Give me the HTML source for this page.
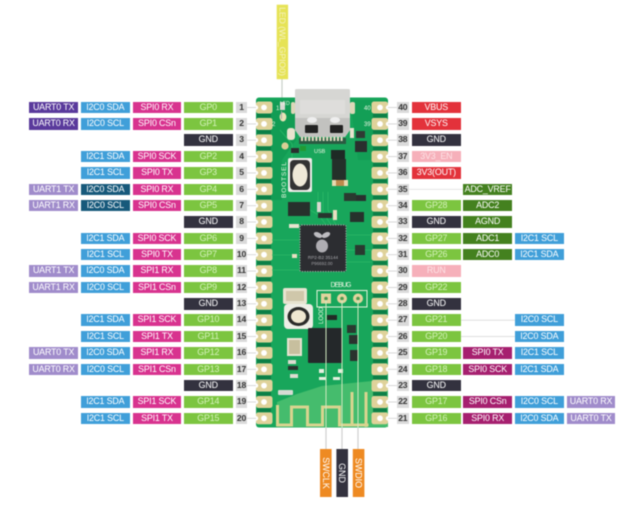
<!DOCTYPE html>
<html><head><meta charset="utf-8"><style>
html,body{margin:0;padding:0;background:#fff}
#w{position:relative;width:644px;height:506px;overflow:hidden;background:#fff;filter:blur(.45px);font-family:"Liberation Sans",sans-serif}
svg{position:absolute;left:0;top:0}
.r{position:absolute;left:0;width:644px;height:0}
.r span{position:absolute;top:-5.8px;height:11.6px;line-height:11.8px;width:48.6px;text-align:center;font-size:8.9px;letter-spacing:-.16px;color:#fff;white-space:nowrap;box-shadow:0 0 0 .6px rgba(255,255,255,.3)}
.r .c0{left:29.3px}.r .c1{left:81px}.r .c2{left:132.7px}.r .c3{left:184px}
.r .R0{left:412px}.r .R1{left:463.4px}.r .R2{left:515px}.r .R3{left:566.7px}
.r .n{width:11.6px;background:#dadada;color:#333;font-weight:bold;font-size:8.6px;letter-spacing:-.2px}
.r .nl{left:235.7px}.r .nr{left:397px}
.u0{background:#5a3a9c}.u1{background:#a08ccb}.i{background:#409fd9}.j{background:#17597b}
.s{background:#d8338f}.t{background:#a6206f}.g{background:#7cc540;color:#d6f2bd!important}
.k{background:#33323f}.x{background:#e3323b}.p{background:#f6b0ba;color:#fde3e6!important}.d{background:#44811f}
</style></head><body><div id="w">
<svg width="644" height="506" viewBox="0 0 644 506">
<defs>
<g id="p">
<rect x="247" y="-.4" width="10" height=".8" fill="#cfcfcf"/>
<rect x="388" y="-.4" width="9" height=".8" fill="#cfcfcf"/>
<rect x="256" y="-6" width="16.5" height="12" rx="2.5" fill="#dfd29a"/>
<rect x="371.5" y="-6" width="16.5" height="12" rx="2.5" fill="#dfd29a"/>
<circle cx="264" cy="0" r="2.9" fill="#fff"/>
<circle cx="380" cy="0" r="2.9" fill="#fff"/>
<path d="M256-2.2a2.2 2.2 0 0 1 0 4.4z" fill="#fff"/>
<path d="M388-2.2a2.2 2.2 0 0 0 0 4.4z" fill="#fff"/>
</g>
</defs>
<!-- connector lines -->
<rect x="281.4" y="79" width="1.2" height="38" fill="#c8cfc8"/>
<rect x="408" y="188.9" width="56" height=".8" fill="#dedede"/>
<rect x="461" y="319.8" width="54" height=".8" fill="#d6d6d6"/>
<rect x="461" y="336.1" width="54" height=".8" fill="#d6d6d6"/>
<!-- board -->
<rect x="256" y="97.5" width="132" height="330" rx="3" fill="#18a65b"/>
<path d="M256 100h40v40l-14 20v40h-26z" fill="#129c54"/>
<path d="M350 100h38v60h-30z" fill="#139f56"/>
<path d="M277 427v-25l20-8 25-8 50-5 16 0v46z" fill="#45bc6d"/>
<use href="#p" y="107.5"/><use href="#p" y="123.9"/><use href="#p" y="140.2"/><use href="#p" y="156.6"/><use href="#p" y="172.9"/><use href="#p" y="189.3"/><use href="#p" y="205.7"/><use href="#p" y="222"/><use href="#p" y="238.4"/><use href="#p" y="254.7"/><use href="#p" y="271.1"/><use href="#p" y="287.5"/><use href="#p" y="303.8"/><use href="#p" y="320.2"/><use href="#p" y="336.5"/><use href="#p" y="352.9"/><use href="#p" y="369.3"/><use href="#p" y="385.6"/><use href="#p" y="402"/><use href="#p" y="418.3"/>
<g fill="#0b8047">
<path d="M257 113.6h14v4.2h-14zM257 130h14v4.2h-14zM257 146.4h14v4.2h-14zM257 162.7h14v4.2h-14zM257 179.1h14v4.2h-14zM257 195.4h14v4.2h-14zM257 211.8h14v4.2h-14zM257 228.2h14v4.2h-14zM257 244.5h14v4.2h-14zM257 260.9h14v4.2h-14zM257 277.2h14v4.2h-14zM257 293.6h14v4.2h-14zM257 310h14v4.2h-14zM257 326.3h14v4.2h-14zM257 342.7h14v4.2h-14zM257 359h14v4.2h-14zM257 375.4h14v4.2h-14zM257 391.8h14v4.2h-14zM257 408.1h14v4.2h-14z"/>
<path d="M373 113.6h14v4.2h-14zM373 130h14v4.2h-14zM373 146.4h14v4.2h-14zM373 162.7h14v4.2h-14zM373 179.1h14v4.2h-14zM373 195.4h14v4.2h-14zM373 211.8h14v4.2h-14zM373 228.2h14v4.2h-14zM373 244.5h14v4.2h-14zM373 260.9h14v4.2h-14zM373 277.2h14v4.2h-14zM373 293.6h14v4.2h-14zM373 310h14v4.2h-14zM373 326.3h14v4.2h-14zM373 342.7h14v4.2h-14zM373 359h14v4.2h-14zM373 375.4h14v4.2h-14zM373 391.8h14v4.2h-14zM373 408.1h14v4.2h-14z"/>
</g>
<!-- traces -->
<g stroke="#2cb968" stroke-width=".8" fill="none">
<path d="M318 192v22l8 11M323 192v20l8 13M328 192v18l8 15M280 130l12 14v14M272 240h28M272 255h28M272 270h28M346 235h26M346 250h26M346 262h26M310 210l14 8"/>
</g>
<!-- USB -->
<path d="M295 90q0-1 2-1h51q2 0 2 1v40l-5 7h-45l-5-7z" fill="#d6d6d3"/>
<path d="M295 118h55v12l-5 7h-45l-5-7z" fill="#c2c2bf"/>
<rect x="300" y="100" width="45" height="14" fill="#dedddb"/>
<ellipse cx="312" cy="120" rx="5" ry="3" fill="#eee"/><ellipse cx="335" cy="120" rx="5" ry="3" fill="#eee"/>
<rect x="305" y="125" width="13" height="8" rx="1" fill="#222"/><rect x="330" y="125" width="13" height="8" rx="1" fill="#222"/>
<rect x="287" y="128" width="8" height="12" rx="3" fill="#e8e3cf"/><rect x="350" y="128" width="4" height="10" fill="#e8e3cf"/>
<rect x="350" y="102" width="5" height="12" rx="2" fill="#dcd7b8"/><rect x="291" y="102" width="4" height="12" rx="2" fill="#dcd7b8"/>
<rect x="299" y="138" width="47" height="6" fill="#2b5a42"/>
<path d="M301 139h43" stroke="#e6e0c4" stroke-width="4" stroke-dasharray="2 1.6"/>
<!-- LED -->
<rect x="280" y="102" width="5" height="8" fill="#d9d9d2"/>
<ellipse cx="283" cy="117" rx="3.4" ry="4.5" fill="#e9e3b6"/>
<rect x="281" y="111" width="1" height="8" fill="#aaa"/>
<!-- small parts top right -->
<rect x="356" y="131" width="9" height="7" fill="#2f3a34"/><rect x="355" y="141" width="12" height="11" fill="#2a2f2e"/>
<rect x="331" y="150" width="14" height="9" fill="#1e2a25"/>
<rect x="332" y="159" width="14" height="21" fill="#24302a"/>
<rect x="332" y="180" width="16" height="6" fill="#e7d9b0"/><rect x="336" y="180" width="8" height="6" fill="#bd8a4c"/>
<rect x="345" y="195" width="4" height="6" fill="#ddd"/><rect x="356" y="195" width="10" height="6" fill="#2a2f2e"/><rect x="344" y="193" width="12" height="8" fill="#2a3a30"/>
<rect x="350" y="212" width="14" height="10" fill="#26322c"/>
<rect x="317" y="202" width="4" height="10" fill="#d9d9cf"/><rect x="333" y="210" width="4" height="10" fill="#e8dfc2"/>
<rect x="318" y="213" width="14" height="5" fill="#28352e"/>
<rect x="355" y="245" width="10" height="10" fill="#2a3a30"/>
<rect x="289" y="224" width="10" height="4" fill="#e8e3cf"/><rect x="292" y="254" width="5" height="4" fill="#e8dfc2"/>
<rect x="300" y="146" width="6" height="5" fill="#293"/><rect x="291" y="148" width="8" height="5" fill="#2a2f2e"/>
<circle cx="285" cy="146" r="3.6" fill="#d9cf95"/>
<!-- boot button -->
<rect x="288" y="158" width="24" height="34" rx="2" fill="#eeeee9"/>
<rect x="290" y="160" width="20" height="30" rx="4" fill="#333"/>
<ellipse cx="300" cy="175" rx="7.5" ry="11.5" fill="#efe9d8"/>
<!-- flash -->
<rect x="288" y="202" width="22" height="14" fill="#27302c"/>
<!-- main chip -->
<rect x="300" y="225" width="46" height="46.5" rx="1.5" fill="#2c2d31"/>
<rect x="300" y="225" width="46" height="46.5" rx="1.5" fill="none" stroke="#aaa" stroke-width="1.2" stroke-dasharray="1 1.6"/>
<g fill="#cfcbd0">
<ellipse cx="322" cy="246" rx="6" ry="6.5" fill="#aeadb2"/>
<ellipse cx="318" cy="235" rx="4.5" ry="2.5" transform="rotate(25 318 235)" fill="#bdbcc0"/>
<ellipse cx="326" cy="235" rx="4.5" ry="2.5" transform="rotate(-25 326 235)" fill="#bdbcc0"/>
</g>
<text x="323" y="259" font-size="4.6" fill="#a9a9ad" text-anchor="middle">RP2-B2  35144</text>
<text x="322" y="265" font-size="4.4" fill="#a0a0a4" text-anchor="middle">P96692.00</text>
<!-- debug -->
<path d="M317 290.5h50v16.5h-50z" fill="none" stroke="#e6f3dc" stroke-width="1"/>
<text x="341" y="287" font-size="7" fill="#eef6e4" text-anchor="middle" textLength="21">DEBUG</text>
<rect x="321" y="293.5" width="10" height="10" fill="#e1d49e"/>
<circle cx="342" cy="298.5" r="5" fill="#e1d49e"/><circle cx="358" cy="298.5" r="5" fill="#e1d49e"/>
<circle cx="326" cy="298.5" r="1.8" fill="#4c9a50"/><circle cx="342" cy="298.5" r="1.8" fill="#4c9a50"/><circle cx="358" cy="298.5" r="1.8" fill="#4c9a50"/>
<!-- crystal & reset -->
<rect x="283" y="288" width="24" height="16" rx="2" fill="#e7e3d0"/><rect x="286" y="291" width="18" height="10" fill="#cfc7aa"/>
<rect x="284" y="304" width="29" height="25" rx="4" fill="#eeeee6"/>
<ellipse cx="298.5" cy="316.5" rx="11" ry="9.5" fill="#2a2a28"/><ellipse cx="298.5" cy="316.5" rx="7.5" ry="6.5" fill="#efe7d0"/>
<rect x="287" y="338" width="15" height="18" fill="#e7e3d0"/><rect x="289" y="340" width="11" height="14" fill="#c7bf9e"/>
<rect x="288" y="360" width="8" height="4" fill="#dcdcd0"/><rect x="288" y="366" width="10" height="4" fill="#2a332e"/><rect x="290" y="374" width="8" height="4" fill="#dcdcd0"/>
<rect x="278" y="390" width="15" height="5" rx="1" fill="#d6dbd3"/>
<!-- QFN -->
<rect x="308" y="328" width="34" height="35" rx="1" fill="#24282a"/>
<rect x="347" y="325" width="9" height="8" fill="#2a3a30"/><rect x="349" y="335" width="9" height="9" fill="#2a332e"/><rect x="350" y="350" width="8" height="11" fill="#2a332e"/>
<rect x="327" y="315" width="10" height="5" fill="#222b26"/>
<rect x="319" y="369" width="5" height="4" fill="#e6efe0"/><rect x="338" y="369" width="5" height="4" fill="#e6efe0"/><rect x="319" y="377" width="7" height="3" fill="#e6efe0"/><rect x="333" y="377" width="7" height="3" fill="#e6efe0"/>
<!-- antenna -->
<g fill="none" stroke="#d8d48f" stroke-width="3">
<path d="M277.5 405v20h14v-18h16v18h15v-18h17v18h29"/>
<path d="M352 392v33M366 392v35"/>
</g>
<!-- debug leads -->
<g stroke-width="1">
<path d="M326 300v128M342 300v128M358 300v128" stroke="#cfe8bf"/>
<path d="M326 428v21M342 428v21M358 428v21" stroke="#cfcfcf" stroke-width="1.2"/>
</g>
<!-- silkscreen -->
<g fill="#eef6e4" font-size="6">
<text x="276" y="110">1</text><text x="272" y="126">2</text>
<text x="364" y="110">40</text><text x="364" y="126">39</text>
<text x="280" y="105" font-size="5">LED</text>
<text x="314" y="153" font-size="5.5">USB</text>
<text transform="translate(286,198) rotate(-90)" font-size="6.5" textLength="36">BOOTSEL</text>
<text transform="translate(323,324) rotate(-90)" font-size="6">LOOD</text>
</g>
<!-- LED label -->
<rect x="276.7" y="4.7" width="11.4" height="74.5" fill="#e6e356"/>
<text transform="translate(279.4,41.5) rotate(90)" font-size="8.6" fill="#f6f3c4" text-anchor="middle">LED (WL_GPIO0)</text>
<!-- bottom labels -->
<rect x="320" y="449" width="11.6" height="48" fill="#ee8a22"/>
<rect x="336.4" y="449" width="11.6" height="48" fill="#33323f"/>
<rect x="352.8" y="449" width="11.6" height="48" fill="#ee8a22"/>
<g font-size="8.9" fill="#fff" text-anchor="middle">
<text transform="translate(322.8,473) rotate(90)">SWCLK</text>
<text transform="translate(339.2,473) rotate(90)">GND</text>
<text transform="translate(355.6,473) rotate(90)">SWDIO</text>
</g>
</svg>

<div class="r" style="top:107.5px"><span class="c0 u0">UART0 TX</span><span class="c1 i">I2C0 SDA</span><span class="c2 s">SPI0 RX</span><span class="c3 g">GP0</span><span class="n nl">1</span><span class="n nr">40</span><span class="R0 x">VBUS</span></div>
<div class="r" style="top:123.9px"><span class="c0 u0">UART0 RX</span><span class="c1 i">I2C0 SCL</span><span class="c2 s">SPI0 CSn</span><span class="c3 g">GP1</span><span class="n nl">2</span><span class="n nr">39</span><span class="R0 x">VSYS</span></div>
<div class="r" style="top:140.2px"><span class="c3 k">GND</span><span class="n nl">3</span><span class="n nr">38</span><span class="R0 k">GND</span></div>
<div class="r" style="top:156.6px"><span class="c1 i">I2C1 SDA</span><span class="c2 s">SPI0 SCK</span><span class="c3 g">GP2</span><span class="n nl">4</span><span class="n nr">37</span><span class="R0 p">3V3_EN</span></div>
<div class="r" style="top:172.9px"><span class="c1 i">I2C1 SCL</span><span class="c2 s">SPI0 TX</span><span class="c3 g">GP3</span><span class="n nl">5</span><span class="n nr">36</span><span class="R0 x">3V3(OUT)</span></div>
<div class="r" style="top:189.3px"><span class="c0 u1">UART1 TX</span><span class="c1 j">I2C0 SDA</span><span class="c2 s">SPI0 RX</span><span class="c3 g">GP4</span><span class="n nl">6</span><span class="n nr">35</span><span class="R1 d">ADC_VREF</span></div>
<div class="r" style="top:205.7px"><span class="c0 u1">UART1 RX</span><span class="c1 j">I2C0 SCL</span><span class="c2 s">SPI0 CSn</span><span class="c3 g">GP5</span><span class="n nl">7</span><span class="n nr">34</span><span class="R0 g">GP28</span><span class="R1 d">ADC2</span></div>
<div class="r" style="top:222px"><span class="c3 k">GND</span><span class="n nl">8</span><span class="n nr">33</span><span class="R0 k">GND</span><span class="R1 d">AGND</span></div>
<div class="r" style="top:238.4px"><span class="c1 i">I2C1 SDA</span><span class="c2 s">SPI0 SCK</span><span class="c3 g">GP6</span><span class="n nl">9</span><span class="n nr">32</span><span class="R0 g">GP27</span><span class="R1 d">ADC1</span><span class="R2 i">I2C1 SCL</span></div>
<div class="r" style="top:254.7px"><span class="c1 i">I2C1 SCL</span><span class="c2 s">SPI0 TX</span><span class="c3 g">GP7</span><span class="n nl">10</span><span class="n nr">31</span><span class="R0 g">GP26</span><span class="R1 d">ADC0</span><span class="R2 i">I2C1 SDA</span></div>
<div class="r" style="top:271.1px"><span class="c0 u1">UART1 TX</span><span class="c1 i">I2C0 SDA</span><span class="c2 s">SPI1 RX</span><span class="c3 g">GP8</span><span class="n nl">11</span><span class="n nr">30</span><span class="R0 p">RUN</span></div>
<div class="r" style="top:287.5px"><span class="c0 u1">UART1 RX</span><span class="c1 i">I2C0 SCL</span><span class="c2 s">SPI1 CSn</span><span class="c3 g">GP9</span><span class="n nl">12</span><span class="n nr">29</span><span class="R0 g">GP22</span></div>
<div class="r" style="top:303.8px"><span class="c3 k">GND</span><span class="n nl">13</span><span class="n nr">28</span><span class="R0 k">GND</span></div>
<div class="r" style="top:320.2px"><span class="c1 i">I2C1 SDA</span><span class="c2 s">SPI1 SCK</span><span class="c3 g">GP10</span><span class="n nl">14</span><span class="n nr">27</span><span class="R0 g">GP21</span><span class="R2 i">I2C0 SCL</span></div>
<div class="r" style="top:336.5px"><span class="c1 i">I2C1 SCL</span><span class="c2 s">SPI1 TX</span><span class="c3 g">GP11</span><span class="n nl">15</span><span class="n nr">26</span><span class="R0 g">GP20</span><span class="R2 i">I2C0 SDA</span></div>
<div class="r" style="top:352.9px"><span class="c0 u1">UART0 TX</span><span class="c1 i">I2C0 SDA</span><span class="c2 s">SPI1 RX</span><span class="c3 g">GP12</span><span class="n nl">16</span><span class="n nr">25</span><span class="R0 g">GP19</span><span class="R1 t">SPI0 TX</span><span class="R2 i">I2C1 SCL</span></div>
<div class="r" style="top:369.3px"><span class="c0 u1">UART0 RX</span><span class="c1 i">I2C0 SCL</span><span class="c2 s">SPI1 CSn</span><span class="c3 g">GP13</span><span class="n nl">17</span><span class="n nr">24</span><span class="R0 g">GP18</span><span class="R1 t">SPI0 SCK</span><span class="R2 i">I2C1 SDA</span></div>
<div class="r" style="top:385.6px"><span class="c3 k">GND</span><span class="n nl">18</span><span class="n nr">23</span><span class="R0 k">GND</span></div>
<div class="r" style="top:402px"><span class="c1 i">I2C1 SDA</span><span class="c2 s">SPI1 SCK</span><span class="c3 g">GP14</span><span class="n nl">19</span><span class="n nr">22</span><span class="R0 g">GP17</span><span class="R1 t">SPI0 CSn</span><span class="R2 i">I2C0 SCL</span><span class="R3 u1">UART0 RX</span></div>
<div class="r" style="top:418.3px"><span class="c1 i">I2C1 SCL</span><span class="c2 s">SPI1 TX</span><span class="c3 g">GP15</span><span class="n nl">20</span><span class="n nr">21</span><span class="R0 g">GP16</span><span class="R1 t">SPI0 RX</span><span class="R2 i">I2C0 SDA</span><span class="R3 u1">UART0 TX</span></div>
</div></body></html>
